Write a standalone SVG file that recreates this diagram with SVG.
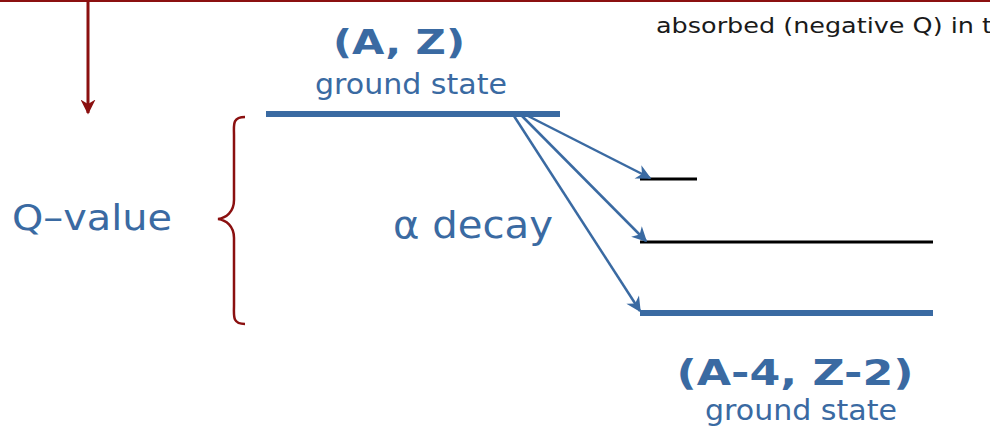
<svg xmlns="http://www.w3.org/2000/svg" width="990" height="428" viewBox="0 0 990 428">
<defs>
<style>
.blue{fill:#3a6aa2;font-family:"Comic Sans MS","DejaVu Sans",sans-serif}
.lvl{stroke:#3a6aa2;stroke-width:6}
.blk{stroke:#000;stroke-width:3}
.arr{stroke:#3a6aa2;stroke-width:2.5;fill:none;marker-end:url(#ab)}
.red{stroke:#8b1010;fill:none}
</style>
<marker id="ab" viewBox="0 0 10 10" refX="9" refY="5" markerWidth="17" markerHeight="15" orient="auto" markerUnits="userSpaceOnUse"><path d="M0,0 L10,5 L0,10 L3,5 z" fill="#3a6aa2"/></marker>
<marker id="ar" viewBox="0 0 10 10" refX="9" refY="5" markerWidth="15" markerHeight="15" orient="auto" markerUnits="userSpaceOnUse"><path d="M0,0 L10,5 L0,10 L3,5 z" fill="#8b1010"/></marker>
</defs>
<line x1="0" y1="1" x2="990" y2="1" class="red" stroke-width="2"/>
<line x1="88" y1="0" x2="88" y2="113" class="red" stroke-width="3" marker-end="url(#ar)"/>
<text x="656" y="33" font-family="Comic Sans MS,DejaVu Sans,sans-serif" font-size="22" fill="#1a1a1a" textLength="336" lengthAdjust="spacingAndGlyphs">absorbed (negative Q) in t</text>
<g id="parent">
<text x="399" y="54" text-anchor="middle" class="blue" font-size="34" font-weight="bold" textLength="132" lengthAdjust="spacingAndGlyphs">(A, Z)</text>
<text x="411" y="94" text-anchor="middle" class="blue" font-size="28" textLength="192" lengthAdjust="spacingAndGlyphs">ground state</text>
<line x1="266" y1="114" x2="560" y2="114" class="lvl"/>
</g>
<g id="qvalue">
<path d="M245,117 C232,117 234,125 234,135 L234,200 C234,212 226,218 218,219 C226,220 234,226 234,238 L234,305 C234,316 232,324 245,324" class="red" stroke-width="2.5"/>
<text x="12" y="230" class="blue" font-size="36" textLength="160" lengthAdjust="spacingAndGlyphs">Q–value</text>
</g>
<g id="decay">
<text x="393" y="238" class="blue" font-size="38" textLength="160" lengthAdjust="spacingAndGlyphs">α decay</text>
</g>
<g id="levels">
<line x1="640" y1="179" x2="697" y2="179" class="blk"/>
<line x1="640" y1="242" x2="933" y2="242" class="blk"/>
<line x1="640" y1="313" x2="933" y2="313" class="lvl"/>
</g>
<g id="daughter">
<text x="795" y="385" text-anchor="middle" class="blue" font-size="36" font-weight="bold" textLength="237" lengthAdjust="spacingAndGlyphs">(A-4, Z-2)</text>
<text x="801" y="420" text-anchor="middle" class="blue" font-size="28" textLength="192" lengthAdjust="spacingAndGlyphs">ground state</text>
</g>
<g id="connectors">
<line x1="528" y1="116" x2="650" y2="178" class="arr"/>
<line x1="522" y1="116" x2="646" y2="241" class="arr"/>
<line x1="514" y1="116" x2="640" y2="311" class="arr"/>
</g>
</svg>
